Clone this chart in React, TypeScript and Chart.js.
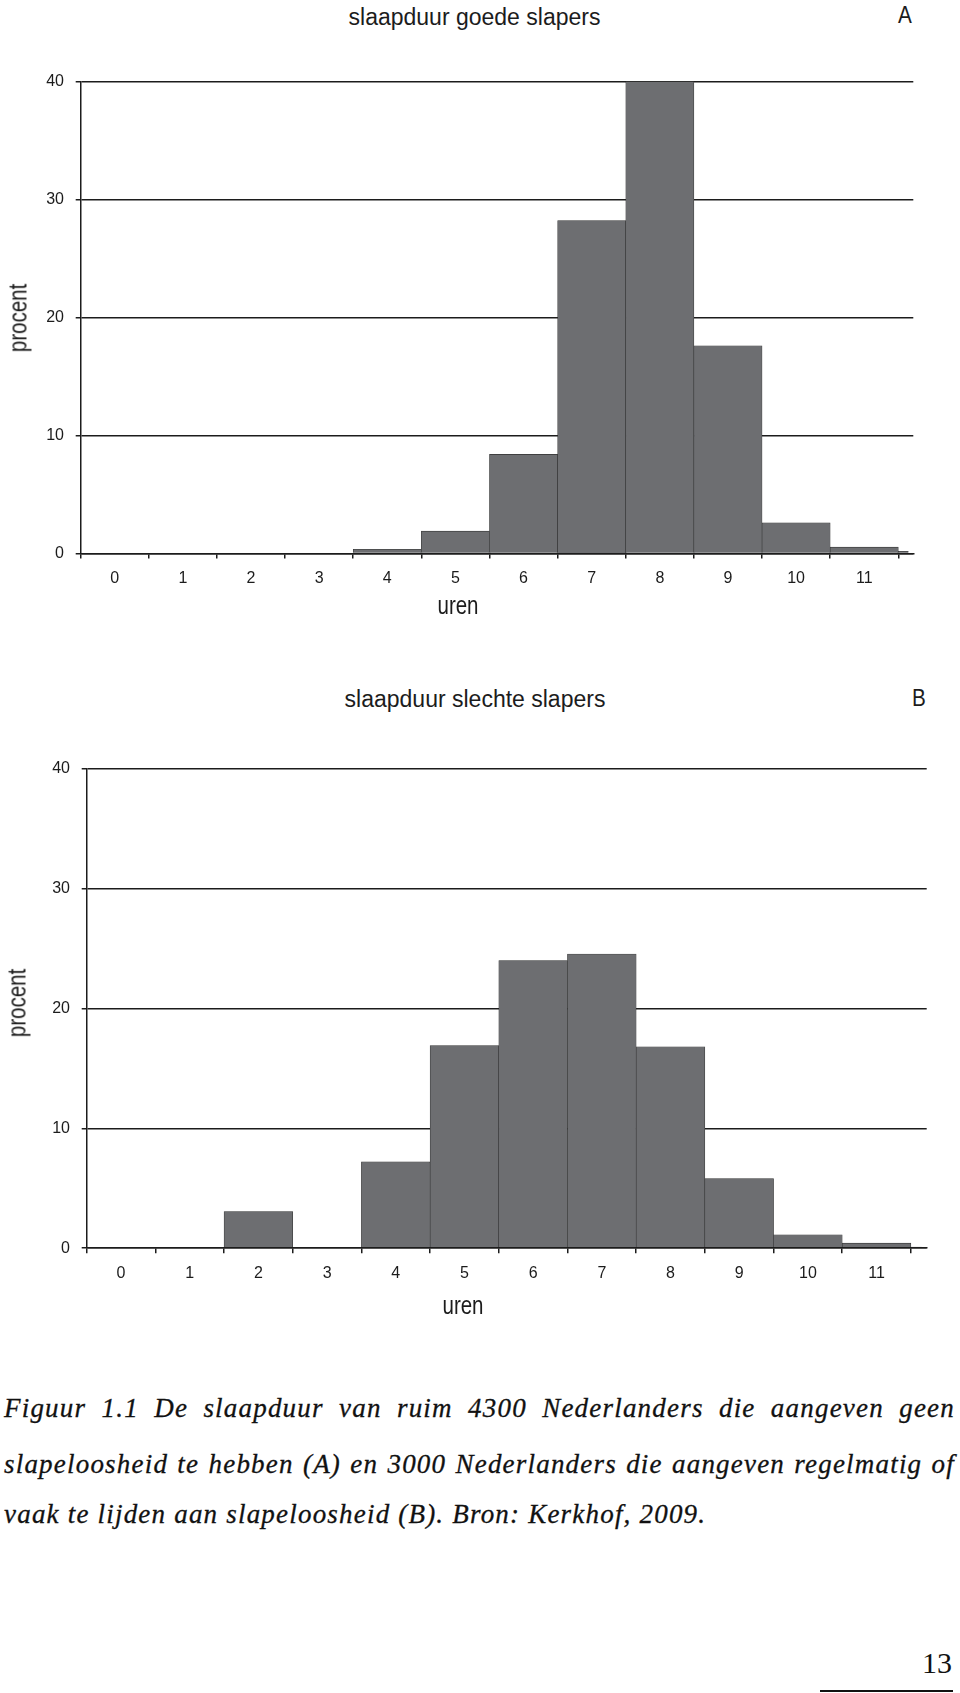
import React, { useEffect, useRef } from 'react';
import { Chart, registerables } from 'chart.js';

Chart.register(...registerables);

// ---- data -------------------------------------------------------------
const HOUR_LABELS = ['0', '1', '2', '3', '4', '5', '6', '7', '8', '9', '10', '11'];
// bin positions (hours); the last one is the small tail bin past 11
const BIN_HOURS = [0, 1, 2, 3, 4, 5, 6, 7, 8, 9, 10, 11, 12];
const GOEDE_PCT = [0, 0, 0, 0, 0.36, 1.9, 8.4, 28.2, 40, 17.6, 2.6, 0.55, 0.2];
const SLECHTE_PCT = [0, 0, 3.06, 0, 7.2, 16.9, 24.0, 24.55, 16.8, 5.8, 1.12, 0.42, 0.1];
const Y_TICKS = [0, 10, 20, 30, 40];

const TITLE_A = 'slaapduur goede slapers';
const TITLE_B = 'slaapduur slechte slapers';
const X_TITLE = 'uren';
const Y_TITLE = 'procent';
const CAPTION = [
  'Figuur 1.1 De slaapduur van ruim 4300 Nederlanders die aangeven geen',
  'slapeloosheid te hebben (A) en 3000 Nederlanders die aangeven regelmatig of',
  'vaak te lijden aan slapeloosheid (B). Bron: Kerkhof, 2009.',
];
const PAGE_NUMBER = '13';

// ---- styles -----------------------------------------------------------
const SANS = '"Liberation Sans", Arial, Helvetica, sans-serif';
const SERIF = '"Liberation Serif", "Times New Roman", serif';
const INK = '#1c1c1c';
const BAR_FILL = '#6d6e71';
const BAR_EDGE = '#303030';

type Geo = {
  top: number;
  height: number;
  padTop: number;
  padRight: number;
  padBottom: number;
  yWidth: number;
  xMax: number;
  xTickPad: number;
  yTickPad: number;
};

function Histogram({ values, geo }: { values: number[]; geo: Geo }) {
  const ref = useRef<HTMLCanvasElement>(null);
  useEffect(() => {
    const canvas = ref.current;
    if (!canvas) return;
    const chart = new Chart(canvas, {
      type: 'bar',
      data: {
        datasets: [
          {
            data: BIN_HOURS.map((h, i) => ({ x: h, y: values[i] })),
            backgroundColor: BAR_FILL,
            borderColor: BAR_EDGE,
            borderWidth: { top: 0.6, left: 0.6, right: 0.6, bottom: 0 },
            barPercentage: 1,
            categoryPercentage: 1,
            clip: { left: 0, top: 0, right: -5, bottom: 0 },
          } as any,
        ],
      },
      options: {
        responsive: false,
        animation: false,
        devicePixelRatio: 1,
        layout: { padding: { left: 0, top: geo.padTop, right: geo.padRight, bottom: geo.padBottom } },
        plugins: { legend: { display: false }, tooltip: { enabled: false }, title: { display: false } },
        scales: {
          x: {
            type: 'linear',
            min: -0.5,
            max: geo.xMax,
            offset: false,
            afterBuildTicks: (s: any) => {
              s.ticks = HOUR_LABELS.map((_, i) => ({ value: i }));
            },
            afterFit: (s: any) => {
              s.height = 40;
            },
            ticks: {
              autoSkip: false,
              maxRotation: 0,
              padding: geo.xTickPad,
              color: INK,
              font: { family: SANS, size: 16 },
              callback: (_v: any, i: number) => HOUR_LABELS[i],
            },
            grid: { offset: true, drawOnChartArea: false, drawTicks: true, tickLength: 5, color: INK, lineWidth: 1.5 },
            border: { display: true, color: INK, width: 1.5, z: 1 },
          },
          y: {
            type: 'linear',
            min: 0,
            max: 40,
            afterBuildTicks: (s: any) => {
              s.ticks = Y_TICKS.map((v) => ({ value: v }));
            },
            afterFit: (s: any) => {
              s.width = geo.yWidth;
            },
            ticks: { padding: geo.yTickPad, color: INK, font: { family: SANS, size: 16 } },
            grid: { drawTicks: true, tickLength: 5, color: INK, lineWidth: 1.5 },
            border: { display: true, color: INK, width: 1.5 },
            title: { display: false },
          },
        },
      } as any,
    });
    return () => chart.destroy();
  }, [values, geo]);
  return (
    <canvas
      ref={ref}
      width={960}
      height={geo.height}
      style={{ position: 'absolute', left: 0, top: geo.top, width: 960, height: geo.height }}
    />
  );
}

const GEO_A: Geo = {
  top: 40,
  height: 600,
  padTop: 41.4,
  padRight: 46.7,
  padBottom: 46.4,
  yWidth: 80.7,
  xMax: 11.72,
  xTickPad: 10,
  yTickPad: 11.7,
};

const GEO_B: Geo = {
  top: 720,
  height: 620,
  padTop: 48.8,
  padRight: 33.3,
  padBottom: 51.8,
  yWidth: 86.7,
  xMax: 11.73,
  xTickPad: 10.5,
  yTickPad: 11.7,
};

function Label({
  text,
  cx,
  cy,
  size,
  rotate = 0,
  squeeze = 1,
}: {
  text: string;
  cx: number;
  cy: number;
  size: number;
  rotate?: number;
  squeeze?: number;
}) {
  return (
    <div
      style={{
        position: 'absolute',
        left: cx,
        top: cy,
        transform: `translate(-50%, -50%) rotate(${rotate}deg) scaleX(${squeeze})`,
        whiteSpace: 'nowrap',
        fontFamily: SANS,
        fontSize: size,
        lineHeight: `${size}px`,
        color: INK,
      }}
    >
      {text}
    </div>
  );
}

export default function App() {
  const captionTops = [1395.4, 1451.4, 1501.4];
  return (
    <div
      style={{
        position: 'absolute',
        left: 0,
        top: 0,
        width: 960,
        height: 1693,
        overflow: 'hidden',
        background: '#ffffff',
      }}
    >
      <Histogram values={GOEDE_PCT} geo={GEO_A} />
      <Histogram values={SLECHTE_PCT} geo={GEO_B} />

      <Label text={TITLE_A} cx={474.5} cy={17} size={23} />
      <Label text="A" cx={905} cy={14.5} size={23} squeeze={0.9} />
      <Label text={X_TITLE} cx={457.5} cy={604.8} size={25} squeeze={0.82} />
      <Label text={Y_TITLE} cx={18.2} cy={317.5} size={25} rotate={-90} squeeze={0.82} />

      <Label text={TITLE_B} cx={475} cy={698.7} size={23} />
      <Label text="B" cx={918.8} cy={697.5} size={23} squeeze={0.9} />
      <Label text={X_TITLE} cx={463} cy={1304.8} size={25} squeeze={0.82} />
      <Label text={Y_TITLE} cx={17.4} cy={1003} size={25} rotate={-90} squeeze={0.82} />

      {CAPTION.map((line, i) => (
        <div
          key={i}
          style={{
            position: 'absolute',
            left: 4,
            top: captionTops[i],
            width: i < 2 ? 951 : undefined,
            whiteSpace: 'nowrap',
            fontFamily: SERIF,
            fontStyle: 'italic',
            fontSize: 27,
            lineHeight: '27px',
            letterSpacing: '1.2px',
            textAlign: 'justify',
            textAlignLast: i < 2 ? 'justify' : 'left',
            color: '#111',
            WebkitTextStroke: '0.3px #111',
          }}
        >
          {line}
        </div>
      ))}

      <div
        style={{
          position: 'absolute',
          right: 8,
          top: 1647.9,
          fontFamily: SERIF,
          fontSize: 30,
          lineHeight: '30px',
          color: '#111',
        }}
      >
        {PAGE_NUMBER}
      </div>
      <div style={{ position: 'absolute', left: 820, top: 1690, width: 133, height: 2, background: '#111' }} />
    </div>
  );
}
